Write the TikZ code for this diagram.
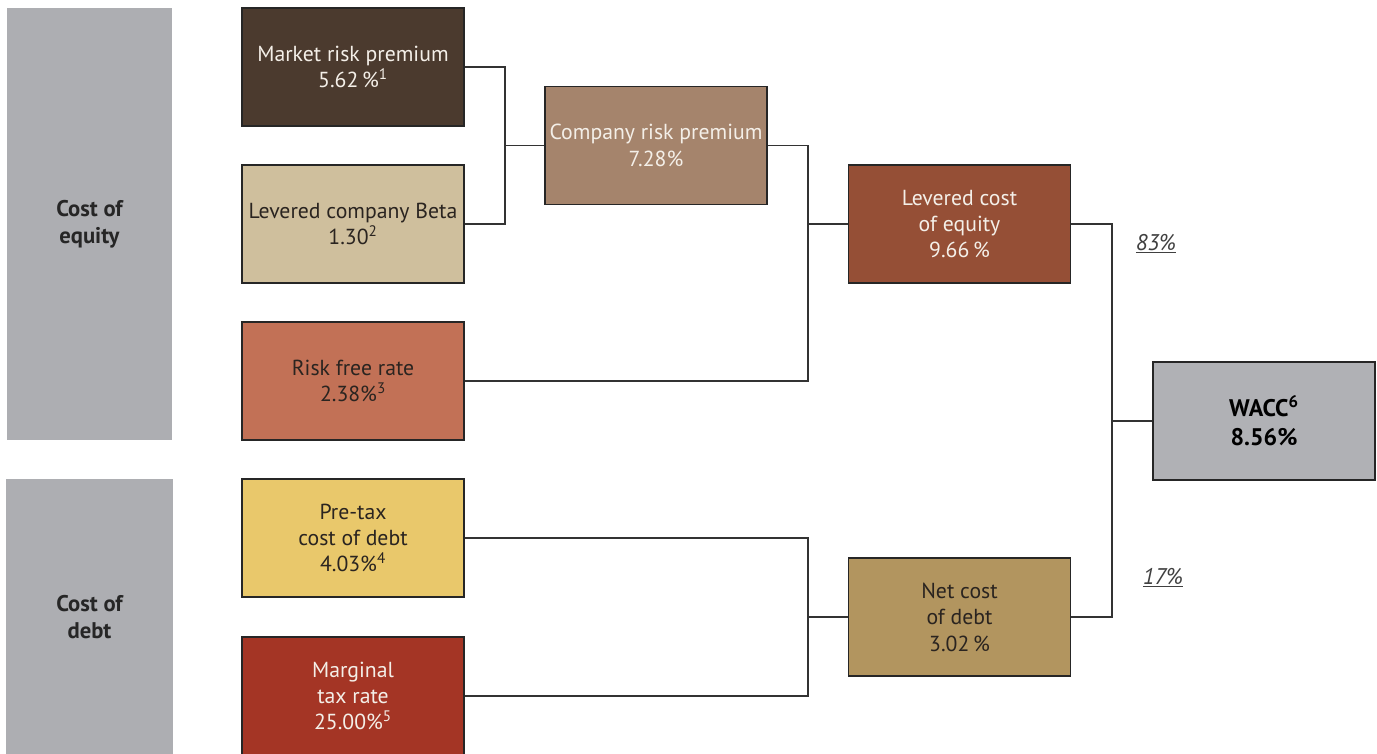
\documentclass[tikz,border=0pt]{standalone}
\usepackage{fontspec}
\setmainfont{PT Sans}
\begin{document}
\begin{tikzpicture}[x=0.75pt,y=-0.75pt,
  box/.style={draw=black!85,line width=0.8pt,minimum width=166.5pt,minimum height=88.5pt,align=center,inner sep=0pt,font=\fontsize{16.3}{19.8}\selectfont},
  side/.style={fill=sidegray,draw=none,align=center,inner sep=0pt,font=\fontsize{17}{20}\selectfont\bfseries,text=black!85},
  conn/.style={draw=black!80,line width=1pt},
  pct/.style={font=\fontsize{17}{19}\selectfont\itshape,text=black!75,inner sep=1pt}]
\definecolor{sidegray}{HTML}{ADAEB2}
\definecolor{cmrp}{HTML}{4B3A2E}
\definecolor{cbeta}{HTML}{CFBF9D}
\definecolor{crf}{HTML}{C27156}
\definecolor{ccrp}{HTML}{A5846C}
\definecolor{clce}{HTML}{954F36}
\definecolor{cpre}{HTML}{E9C86B}
\definecolor{cmarg}{HTML}{A43525}
\definecolor{cncd}{HTML}{B2955F}
\definecolor{cwacc}{HTML}{B0B1B5}
\definecolor{lighttext}{HTML}{F4EFE8}
\definecolor{darktext}{HTML}{2A2420}
\useasboundingbox (0,0) rectangle (1377,753);
% side panels
\node[side,minimum width=123.75pt,minimum height=324pt] (coe) at (89.5,224) {Cost of\\equity};
\fill[sidegray] (6,479) rectangle (173,760);
\node[side] (cod) at (89.5,617) {Cost of\\debt};
% boxes
\node[box,fill=cmrp,text=lighttext] (mrp) at (353,67) {Market risk premium\\5.62\,\%\textsuperscript{1}};
\node[box,fill=cbeta,text=darktext] (beta) at (353,224) {Levered company Beta\\1.30\textsuperscript{2}};
\node[box,fill=crf,text=darktext] (rf) at (353,381) {Risk free rate\\2.38\%\textsuperscript{3}};
\node[box,fill=cpre,text=darktext] (pre) at (353,538) {Pre-tax\\cost of debt\\4.03\%\textsuperscript{4}};
\node[box,fill=cmarg,text=lighttext] (marg) at (353,696) {Marginal\\tax rate\\25.00\%\textsuperscript{5}};
\node[box,fill=ccrp,text=lighttext] (crp) at (656,145.5) {Company risk premium\\7.28\%};
\node[box,fill=clce,text=lighttext] (lce) at (959.5,224) {Levered cost\\of equity\\9.66\,\%};
\node[box,fill=cncd,text=darktext] (ncd) at (959.5,617) {Net cost\\of debt\\3.02\,\%};
\node[box,fill=cwacc,text=black,font=\fontsize{18}{22}\selectfont\bfseries] (wacc) at (1264,421) {WACC\textsuperscript{6}\\8.56\%};
% junctions
\coordinate (j1) at (505,145.5);
\coordinate (j2) at (808,224);
\coordinate (j3) at (808,617);
\coordinate (j4) at (1112,421);
% connectors
\draw[conn] (mrp.east) -| (j1) |- (beta.east);
\draw[conn] (j1) -- (crp.west);
\draw[conn] (crp.east) -| (j2) |- (rf.east);
\draw[conn] (j2) -- (lce.west);
\draw[conn] (pre.east) -| (j3) |- (marg.east);
\draw[conn,line width=1.8pt] (j3) -- (ncd.west);
\draw[conn] (lce.east) -| (j4) |- (ncd.east);
\draw[conn] (j4) -- (wacc.west);
% weights
\node[pct] (w83) at (1156,244) {\underline{83\%}};
\node[pct] (w17) at (1163,578) {\underline{17\%}};
\end{tikzpicture}
\end{document}
